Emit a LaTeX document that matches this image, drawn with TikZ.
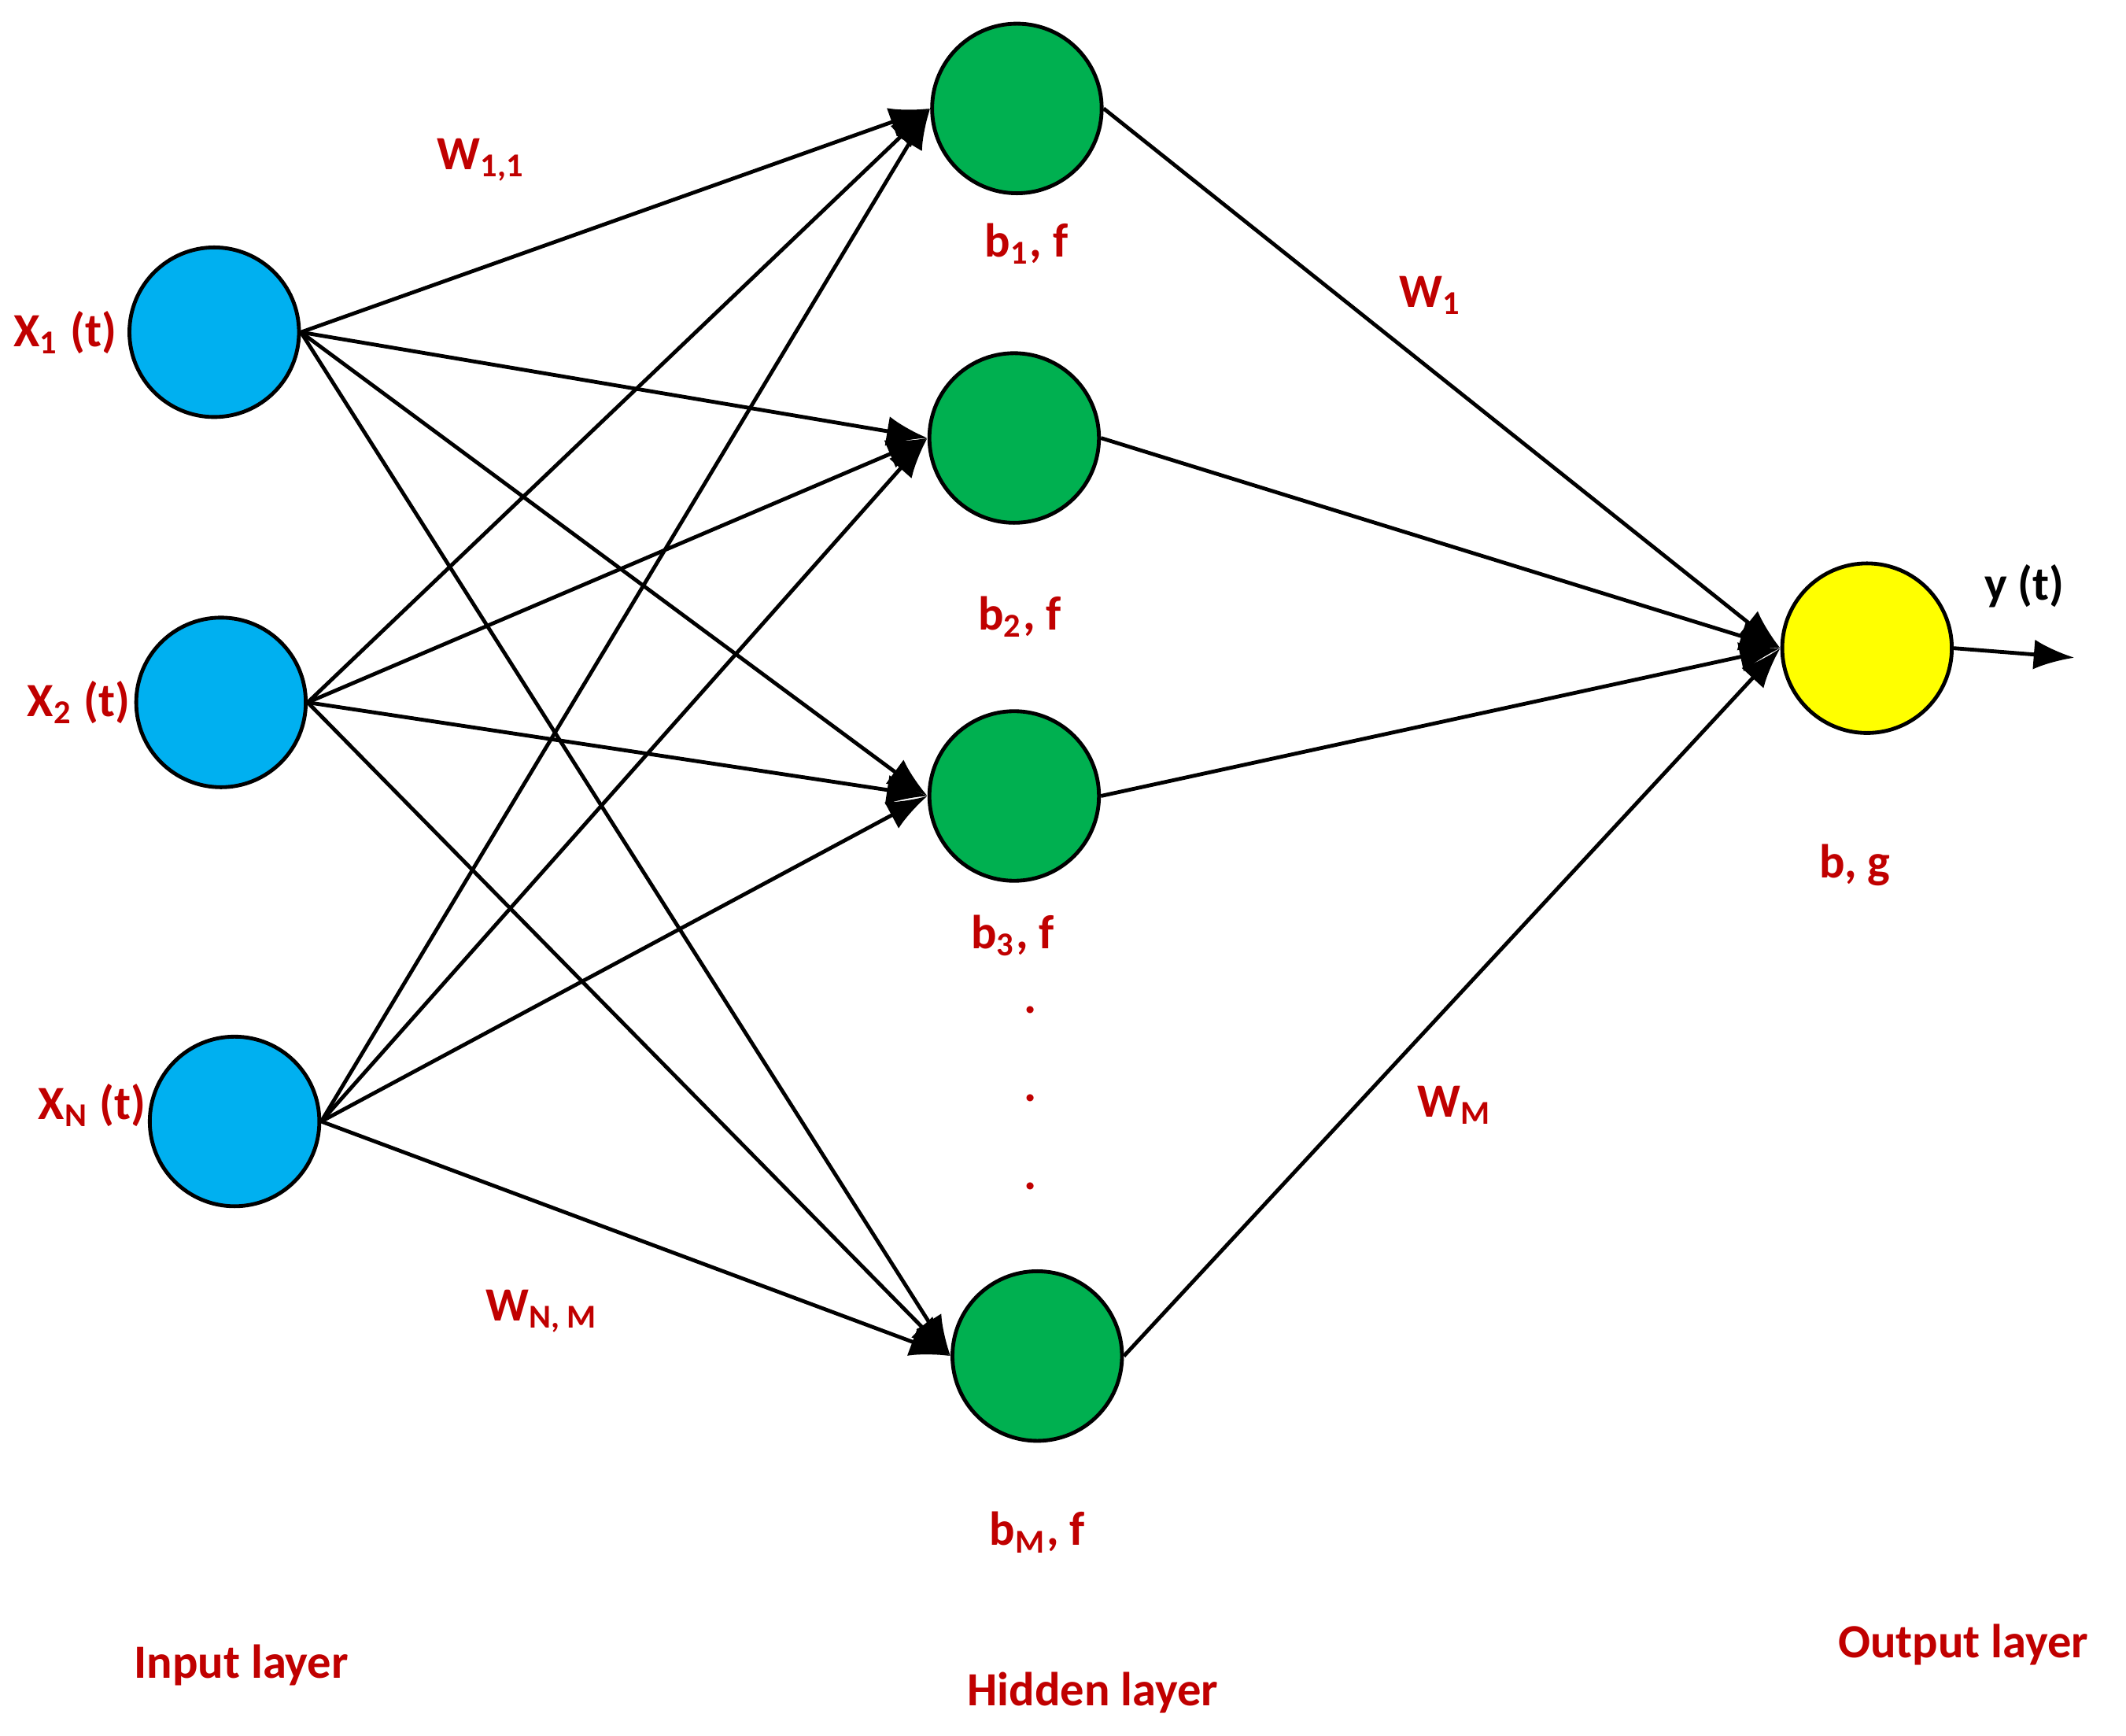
\documentclass[tikz,border=0pt]{standalone}
\usepackage{fontspec}
\setmainfont{Carlito}
\usetikzlibrary{arrows.meta}
\definecolor{inblue}{HTML}{00B0F0}
\definecolor{hidgreen}{HTML}{00B050}
\definecolor{outyellow}{HTML}{FFFF00}
\definecolor{labred}{HTML}{C00000}
\begin{document}
\begin{tikzpicture}[x=0.01cm,y=-0.01cm,
    neuron/.style={circle,draw,line width=0.8pt,minimum size=1.25cm,inner sep=0pt},
    lab/.style={text=labred,font=\fontsize{10}{12}\selectfont\bfseries},
    conn/.style={line width=0.8pt,-{Latex[length=3mm,width=2.2mm]}}]
    \useasboundingbox (0,0) rectangle (1568,1280);
    % input layer
    \node[neuron,fill=inblue] (x1) at (158,245) {};
    \node[neuron,fill=inblue] (x2) at (163,518) {};
    \node[neuron,fill=inblue] (xn) at (173,827) {};
    % hidden layer
    \node[neuron,fill=hidgreen] (h1) at (750,80) {};
    \node[neuron,fill=hidgreen] (h2) at (748,323) {};
    \node[neuron,fill=hidgreen] (h3) at (748,587) {};
    \node[neuron,fill=hidgreen] (hm) at (765,1000) {};
    % output layer
    \node[neuron,fill=outyellow] (out) at (1377,478) {};
    \coordinate (yend) at (1530,485);

    \foreach \i in {x1,x2,xn}
      \foreach \j in {h1,h2,h3,hm}
        \draw[conn] (\i.east) -- (\j.west);
    \foreach \j in {h1,h2,h3,hm}
      \draw[conn] (\j.east) -- (out.west);
    \draw[conn] (out.east) -- (yend);

    % labels
    \node[lab] (lx1) at (48,245) {X\textsubscript{1} (t)};
    \node[lab] (lx2) at (58,518) {X\textsubscript{2} (t)};
    \node[lab] (lxn) at (68,815) {X\textsubscript{N} (t)};
    \node[lab] (lw11) at (355,118) {W\textsubscript{1,1}};
    \node[lab] (lwnm) at (400,967) {W\textsubscript{N, M}};
    \node[lab] (lb1) at (757,180) {b\textsubscript{1}, f};
    \node[lab] (lb2) at (752,455) {b\textsubscript{2}, f};
    \node[lab] (lb3) at (747,690) {b\textsubscript{3}, f};
    \node[lab] (lbm) at (765,1130) {b\textsubscript{M}, f};
    \foreach \y in {745,810,875}
      \node[lab] at (760,\y) {.};
    \node[lab] (lw1) at (1055,218) {W\textsubscript{1}};
    \node[lab] (lwm) at (1073,815) {W\textsubscript{M}};
    \node[lab] (lbg) at (1368,638) {b, g};
    \node[font=\fontsize{10}{12}\selectfont\bfseries] (ly) at (1493,432) {y (t)};
    \node[lab] (lin) at (178,1228) {Input layer};
    \node[lab] (lhid) at (806,1248) {Hidden layer};
    \node[lab] (lout) at (1448,1213) {Output layer};
\end{tikzpicture}
\end{document}
